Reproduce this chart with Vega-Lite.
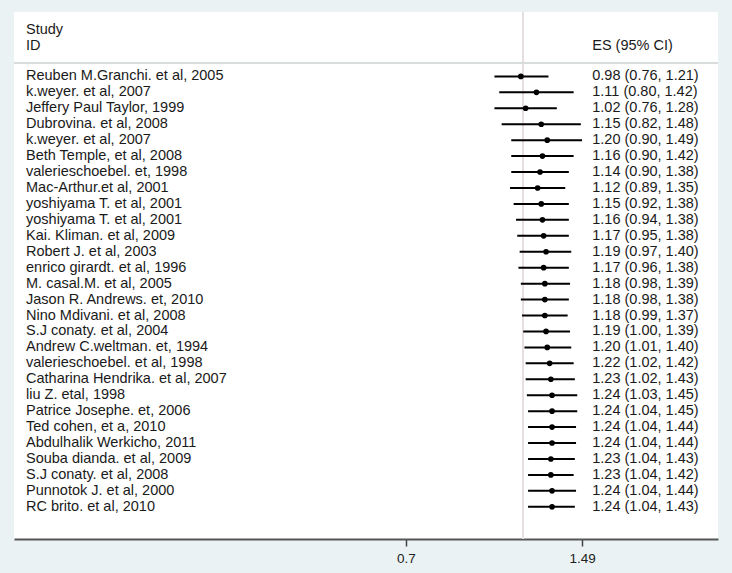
{
  "$schema": "https://vega.github.io/schema/vega-lite/v6.json",
  "width": 704,
  "height": 527,
  "autosize": {"type": "none"},
  "padding": {"left": 14, "top": 12, "right": 14, "bottom": 34},
  "background": "#eaf2f3",
  "config": {
    "view": {"fill": "white", "stroke": null},
    "font": "Liberation Sans",
    "text": {"font": "Liberation Sans"}
  },
  "datasets": {
    "studies": [
      {"row": 0, "study": "Reuben M.Granchi. et al, 2005", "es": 0.98, "lo": 0.76, "hi": 1.21, "ci": "0.98 (0.76, 1.21)"},
      {"row": 1, "study": "k.weyer. et al, 2007", "es": 1.11, "lo": 0.80, "hi": 1.42, "ci": "1.11 (0.80, 1.42)"},
      {"row": 2, "study": "Jeffery Paul Taylor, 1999", "es": 1.02, "lo": 0.76, "hi": 1.28, "ci": "1.02 (0.76, 1.28)"},
      {"row": 3, "study": "Dubrovina. et al, 2008", "es": 1.15, "lo": 0.82, "hi": 1.48, "ci": "1.15 (0.82, 1.48)"},
      {"row": 4, "study": "k.weyer. et al, 2007", "es": 1.20, "lo": 0.90, "hi": 1.49, "ci": "1.20 (0.90, 1.49)"},
      {"row": 5, "study": "Beth Temple, et al, 2008", "es": 1.16, "lo": 0.90, "hi": 1.42, "ci": "1.16 (0.90, 1.42)"},
      {"row": 6, "study": "valerieschoebel. et, 1998", "es": 1.14, "lo": 0.90, "hi": 1.38, "ci": "1.14 (0.90, 1.38)"},
      {"row": 7, "study": "Mac-Arthur.et al, 2001", "es": 1.12, "lo": 0.89, "hi": 1.35, "ci": "1.12 (0.89, 1.35)"},
      {"row": 8, "study": "yoshiyama T. et al, 2001", "es": 1.15, "lo": 0.92, "hi": 1.38, "ci": "1.15 (0.92, 1.38)"},
      {"row": 9, "study": "yoshiyama T. et al, 2001", "es": 1.16, "lo": 0.94, "hi": 1.38, "ci": "1.16 (0.94, 1.38)"},
      {"row": 10, "study": "Kai. Kliman. et al, 2009", "es": 1.17, "lo": 0.95, "hi": 1.38, "ci": "1.17 (0.95, 1.38)"},
      {"row": 11, "study": "Robert J. et al, 2003", "es": 1.19, "lo": 0.97, "hi": 1.40, "ci": "1.19 (0.97, 1.40)"},
      {"row": 12, "study": "enrico girardt. et al, 1996", "es": 1.17, "lo": 0.96, "hi": 1.38, "ci": "1.17 (0.96, 1.38)"},
      {"row": 13, "study": "M. casal.M. et al, 2005", "es": 1.18, "lo": 0.98, "hi": 1.39, "ci": "1.18 (0.98, 1.39)"},
      {"row": 14, "study": "Jason R. Andrews. et, 2010", "es": 1.18, "lo": 0.98, "hi": 1.38, "ci": "1.18 (0.98, 1.38)"},
      {"row": 15, "study": "Nino Mdivani. et al, 2008", "es": 1.18, "lo": 0.99, "hi": 1.37, "ci": "1.18 (0.99, 1.37)"},
      {"row": 16, "study": "S.J conaty. et al, 2004", "es": 1.19, "lo": 1.00, "hi": 1.39, "ci": "1.19 (1.00, 1.39)"},
      {"row": 17, "study": "Andrew C.weltman. et, 1994", "es": 1.20, "lo": 1.01, "hi": 1.40, "ci": "1.20 (1.01, 1.40)"},
      {"row": 18, "study": "valerieschoebel. et al, 1998", "es": 1.22, "lo": 1.02, "hi": 1.42, "ci": "1.22 (1.02, 1.42)"},
      {"row": 19, "study": "Catharina Hendrika. et al, 2007", "es": 1.23, "lo": 1.02, "hi": 1.43, "ci": "1.23 (1.02, 1.43)"},
      {"row": 20, "study": "liu Z. etal, 1998", "es": 1.24, "lo": 1.03, "hi": 1.45, "ci": "1.24 (1.03, 1.45)"},
      {"row": 21, "study": "Patrice Josephe. et, 2006", "es": 1.24, "lo": 1.04, "hi": 1.45, "ci": "1.24 (1.04, 1.45)"},
      {"row": 22, "study": "Ted cohen, et a, 2010", "es": 1.24, "lo": 1.04, "hi": 1.44, "ci": "1.24 (1.04, 1.44)"},
      {"row": 23, "study": "Abdulhalik Werkicho, 2011", "es": 1.24, "lo": 1.04, "hi": 1.44, "ci": "1.24 (1.04, 1.44)"},
      {"row": 24, "study": "Souba dianda. et al, 2009", "es": 1.23, "lo": 1.04, "hi": 1.43, "ci": "1.23 (1.04, 1.43)"},
      {"row": 25, "study": "S.J conaty. et al, 2008", "es": 1.23, "lo": 1.04, "hi": 1.42, "ci": "1.23 (1.04, 1.42)"},
      {"row": 26, "study": "Punnotok J. et al, 2000", "es": 1.24, "lo": 1.04, "hi": 1.44, "ci": "1.24 (1.04, 1.44)"},
      {"row": 27, "study": "RC brito. et al, 2010", "es": 1.24, "lo": 1.04, "hi": 1.43, "ci": "1.24 (1.04, 1.43)"}
    ],
    "headers": [
      {"label": "Study"},
      {"label": "ID"},
      {"label": "ES (95% CI)"}
    ]
  },
  "data": {"name": "studies"},
  "layer": [
    {
      "mark": {"type": "rule", "color": "#e6dde0", "strokeWidth": 1},
      "encoding": {
        "x": {
          "datum": 1,
          "type": "quantitative",
          "scale": {"domain": [-3.244, 2.623], "nice": false, "zero": false},
          "axis": {
            "values": [0.0225, 1.49],
            "labelExpr": "datum.value < 0.5 ? '0.7' : '1.49'",
            "title": null,
            "grid": false,
            "domainColor": "#555555",
            "domainWidth": 2,
            "tickColor": "#444444",
            "tickWidth": 1.5,
            "tickSize": 7,
            "labelFontSize": 13.5,
            "labelColor": "#222222",
            "labelPadding": 5,
            "labelFont": "Liberation Sans"
          }
        }
      }
    },
    {
      "mark": {"type": "rule", "color": "#d9dddd", "strokeWidth": 1},
      "encoding": {
        "y": {"datum": -0.83, "type": "quantitative", "scale": {"domain": [-4.04, 29.02], "reverse": true, "nice": false, "zero": false}, "axis": null}
      }
    },
    {
      "mark": {"type": "rule", "color": "black", "strokeWidth": 2},
      "encoding": {
        "x": {"field": "lo", "type": "quantitative"},
        "x2": {"field": "hi"},
        "y": {"field": "row", "type": "quantitative"}
      }
    },
    {
      "mark": {"type": "point", "shape": "circle", "filled": true, "color": "black", "size": 32, "opacity": 1},
      "encoding": {
        "x": {"field": "es", "type": "quantitative"},
        "y": {"field": "row", "type": "quantitative"}
      }
    },
    {
      "mark": {"type": "text", "align": "left", "baseline": "middle", "fontSize": 14.5, "color": "#1a1a1a"},
      "encoding": {
        "x": {"datum": -3.144, "type": "quantitative"},
        "y": {"field": "row", "type": "quantitative"},
        "text": {"field": "study"}
      }
    },
    {
      "mark": {"type": "text", "align": "left", "baseline": "middle", "fontSize": 14.5, "color": "#1a1a1a"},
      "encoding": {
        "x": {"datum": 1.575, "type": "quantitative"},
        "y": {"field": "row", "type": "quantitative"},
        "text": {"field": "ci"}
      }
    },
    {
      "data": {"name": "headers"},
      "transform": [{"filter": "datum.label == 'Study'"}],
      "mark": {"type": "text", "align": "left", "baseline": "middle", "fontSize": 14.5, "color": "#1a1a1a"},
      "encoding": {
        "x": {"datum": -3.144, "type": "quantitative"},
        "y": {"datum": -2.93, "type": "quantitative"},
        "text": {"field": "label"}
      }
    },
    {
      "data": {"name": "headers"},
      "transform": [{"filter": "datum.label == 'ID'"}],
      "mark": {"type": "text", "align": "left", "baseline": "middle", "fontSize": 14.5, "color": "#1a1a1a"},
      "encoding": {
        "x": {"datum": -3.144, "type": "quantitative"},
        "y": {"datum": -1.93, "type": "quantitative"},
        "text": {"field": "label"}
      }
    },
    {
      "data": {"name": "headers"},
      "transform": [{"filter": "datum.label == 'ES (95% CI)'"}],
      "mark": {"type": "text", "align": "left", "baseline": "middle", "fontSize": 14.5, "color": "#1a1a1a"},
      "encoding": {
        "x": {"datum": 1.575, "type": "quantitative"},
        "y": {"datum": -1.93, "type": "quantitative"},
        "text": {"field": "label"}
      }
    }
  ]
}
